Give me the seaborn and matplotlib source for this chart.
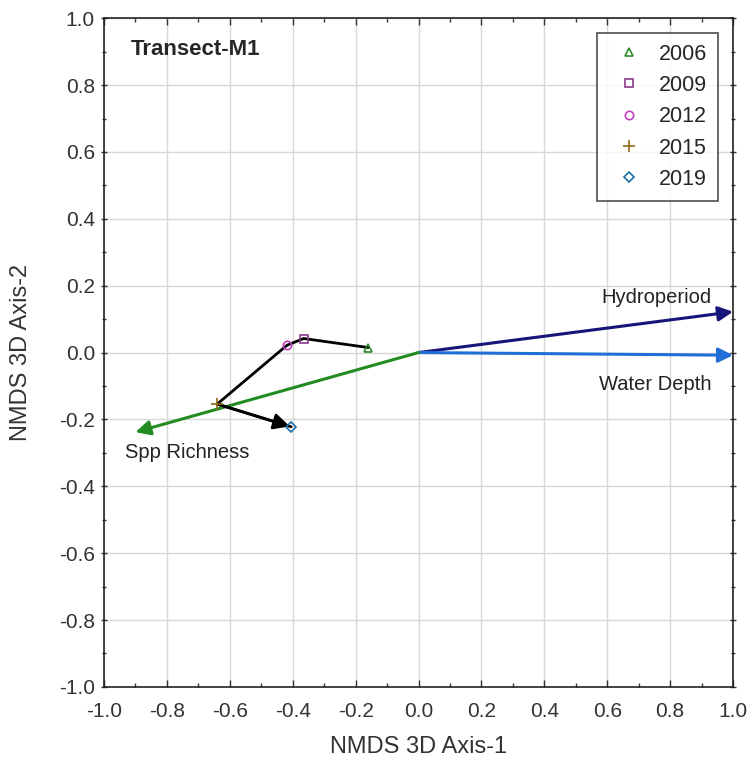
import matplotlib
matplotlib.use('Agg')

import matplotlib.pyplot as plt
import numpy as np
import pandas as pd
import seaborn as sns
from matplotlib.ticker import MultipleLocator, FormatStrFormatter

# NMDS site scores by survey year
years = ["2006", "2009", "2012", "2015", "2019"]
axis1 = [-0.16, -0.365, -0.418, -0.64, -0.405]
axis2 = [0.015, 0.042, 0.022, -0.154, -0.222]

# environmental vectors
vec_names = ["Hydroperiod", "Water Depth", "Spp Richness"]
vec_x = [1.0, 1.0, -0.9]
vec_y = [0.122, -0.008, -0.238]

year_colors = ["#2e8b2e", "#8b3a8b", "#c040c0", "#8b6914", "#1f6fa8"]
year_markers = ["^", "s", "o", "+", "D"]
vec_colors = ["#15157a", "#1f6fd6", "#228b22"]

sns.set_theme(style="white")
plt.rcParams['font.family'] = ['Liberation Sans', 'DejaVu Sans']

df = pd.DataFrame({"Year": years, "Axis1": axis1, "Axis2": axis2})

fig, ax = plt.subplots(figsize=(7.48, 7.59), dpi=100)
fig.subplots_adjust(left=0.139, right=0.98, top=0.976, bottom=0.095)

# trajectory through the years
sns.lineplot(data=df, x="Axis1", y="Axis2", sort=False, color="black", lw=2, ax=ax, zorder=3)
ax.annotate("", xy=(axis1[-1], axis2[-1]), xytext=(axis1[-2], axis2[-2]),
            arrowprops=dict(arrowstyle="-|>", color="black", lw=2, mutation_scale=24,
                            shrinkA=0, shrinkB=1), zorder=4)

# year points
for yr, x, y, c, m in zip(years, axis1, axis2, year_colors, year_markers):
    if m == "+":
        ax.plot(x, y, marker=m, ls="none", color=c, ms=9, mew=1.2, label=yr, zorder=5)
    else:
        ax.plot(x, y, marker=m, ls="none", mec=c, mfc="none", ms=6 if m != "D" else 5,
                mew=1.2, label=yr, zorder=5)

# environmental vectors
for name, vx, vy, c in zip(vec_names, vec_x, vec_y, vec_colors):
    ax.annotate("", xy=(vx, vy), xytext=(0, 0),
                arrowprops=dict(arrowstyle="-|>", color=c, lw=2.2, mutation_scale=22,
                                shrinkA=0, shrinkB=0), zorder=2, annotation_clip=False)

ax.text(0.93, 0.165, "Hydroperiod", ha="right", va="center", fontsize=14.5, color="#222222")
ax.text(0.93, -0.095, "Water Depth", ha="right", va="center", fontsize=14.5, color="#222222")
ax.text(-0.735, -0.3, "Spp Richness", ha="center", va="center", fontsize=14.5, color="#222222")

ax.text(-0.915, 0.905, "Transect-M1", fontsize=16, fontweight="bold", ha="left", va="center")

ax.set_xlim(-1, 1)
ax.set_ylim(-1, 1)
ax.xaxis.set_major_locator(MultipleLocator(0.2))
ax.yaxis.set_major_locator(MultipleLocator(0.2))
ax.xaxis.set_minor_locator(MultipleLocator(0.1))
ax.yaxis.set_minor_locator(MultipleLocator(0.1))
ax.xaxis.set_major_formatter(FormatStrFormatter("%.1f"))
ax.yaxis.set_major_formatter(FormatStrFormatter("%.1f"))
ax.tick_params(which="both", direction="in", top=True, right=True, bottom=True, left=True,
               labelsize=15, colors="#333333", width=1)
ax.tick_params(axis="y", which="both", direction="inout")
ax.tick_params(which="major", length=5)
ax.tick_params(which="minor", length=3)
ax.tick_params(axis="x", which="major", pad=11)
ax.tick_params(axis="y", which="major", pad=4)
ax.grid(True, which="major", color="#d8d8d8", lw=1)
for s in ax.spines.values():
    s.set_color("#222222")
    s.set_linewidth(1.2)

ax.set_xlabel("NMDS 3D Axis-1", fontsize=17, color="#333333")
ax.set_ylabel("NMDS 3D Axis-2", fontsize=17, color="#333333")
ax.xaxis.set_label_coords(0.5, -0.073)
ax.yaxis.set_label_coords(-0.114, 0.5)

leg = ax.legend(loc="upper right", bbox_to_anchor=(0.976, 0.978), fontsize=15.5, frameon=True,
                fancybox=False, edgecolor="#222222", handlelength=1.95, handletextpad=0.42,
                labelspacing=0.48, borderpad=0.5, borderaxespad=0, markerfirst=True)
leg.get_frame().set_linewidth(1.2)

plt.savefig("out.png", dpi=100)
plt.close('all')
